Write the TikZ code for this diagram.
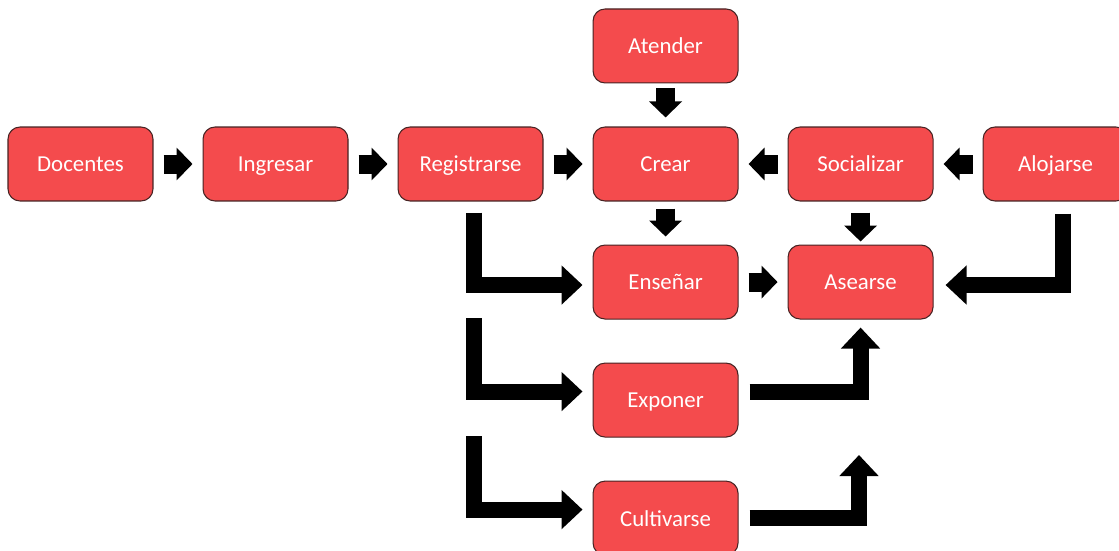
\documentclass[tikz,border=0pt]{standalone}
\usepackage{fontspec}
\setmainfont{Carlito}
\usepackage{tikz}
\usetikzlibrary{positioning,arrows.meta}
\definecolor{boxred}{RGB}{244,75,77}
\definecolor{boxline}{RGB}{70,35,35}

\begin{document}
\begin{tikzpicture}[x=0.02cm,y=-0.02cm,
    task/.style={draw=boxline,line width=0.6pt,fill=boxred,rounded corners=0.24cm,
      minimum width=2.9cm,minimum height=1.48cm,inner sep=0pt,
      text height=10pt,text depth=1pt,
      text=white,font=\fontsize{13}{15}\selectfont},
    smallarrow/.style={line width=0.38cm,-{Triangle[width=0.64cm,length=0.32cm]},
      shorten <=0.2cm,shorten >=0.2cm},
    bigarrow/.style={line width=0.32cm,line join=miter,
      -{Triangle[width=0.76cm,length=0.42cm]}},
    node distance=0.86cm and 0.98cm]
  \useasboundingbox (0,0) rectangle (1119,551);
  % top row
  \node[task] (docentes) at (80.5,164) {Docentes};
  \node[task,right=of docentes] (ingresar) {Ingresar};
  \node[task,right=of ingresar] (registrarse) {Registrarse};
  \node[task,right=of registrarse] (crear) {Crear};
  \node[task,right=of crear] (socializar) {Socializar};
  \node[task,right=of socializar] (alojarse) {Alojarse};
  % column under crear
  \node[task,above=of crear] (atender) {Atender};
  \node[task,below=of crear] (ensenar) {Enseñar};
  \node[task,below=of ensenar] (exponer) {Exponer};
  \node[task,below=of exponer] (cultivarse) {Cultivarse};
  \node[task,below=of socializar] (asearse) {Asearse};
  % free ends
  \coordinate (lstart2) at (473.5,318);
  \coordinate (lstart3) at (473.5,436);
  \coordinate (cultivtip) at (859,455);
  % short arrows
  \draw[smallarrow] (docentes) -- (ingresar);
  \draw[smallarrow] (ingresar) -- (registrarse);
  \draw[smallarrow] (registrarse) -- (crear);
  \draw[smallarrow] (socializar) -- (crear);
  \draw[smallarrow] (alojarse) -- (socializar);
  \draw[smallarrow] (ensenar) -- (asearse);
  \draw[smallarrow,shorten <=0.1cm,shorten >=0.18cm] (atender) -- (crear);
  \draw[smallarrow,shorten <=0.14cm,shorten >=0.16cm] (crear) -- (ensenar);
  \draw[smallarrow,shorten <=0.22cm,shorten >=0.06cm] (socializar) -- (asearse);
  % bent arrows
  \draw[bigarrow,shorten <=0.22cm,shorten >=0.2cm]
    ([xshift=0.06cm]registrarse.south) |- ([yshift=-0.06cm]ensenar.west);
  \draw[bigarrow,shorten >=0.2cm] (lstart2) |- ([yshift=0.17cm]exponer.west);
  \draw[bigarrow,shorten >=0.2cm] (lstart3) |- ([yshift=0.17cm]cultivarse.west);
  \draw[bigarrow,shorten <=0.22cm,shorten >=0.16cm]
    ([yshift=0.16cm]exponer.east) -| (asearse.south);
  \draw[bigarrow,shorten <=0.22cm] (cultivarse.east) -| (cultivtip);
  \draw[bigarrow,shorten <=0.24cm,shorten >=0.24cm]
    ([xshift=0.14cm]alojarse.south) |- ([yshift=-0.06cm]asearse.east);
\end{tikzpicture}
\end{document}
